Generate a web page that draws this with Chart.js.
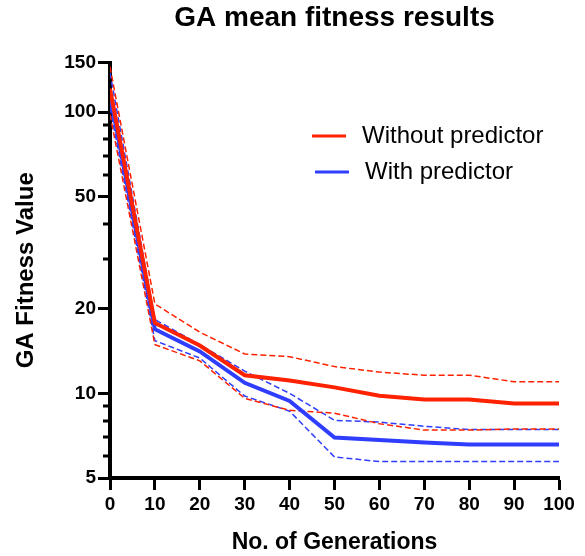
<!DOCTYPE html>
<html>
<head>
<meta charset="utf-8">
<script src="https://cdn.jsdelivr.net/npm/chart.js@4/dist/chart.umd.min.js"></script>
<style>
  html, body { margin:0; padding:0; background:#fff; }
  #wrap { width:585px; height:556px; position:relative; }
</style>
</head>
<body>
<div id="wrap"><canvas id="gaChart"></canvas></div>
<script>
// ─── Data ────────────────────────────────────────────────────────────────────
const generations = [0, 10, 20, 30, 40, 50, 60, 70, 80, 90, 100];

const withoutMean  = [121, 17.8, 14.8, 11.6, 11.1, 10.5, 9.8, 9.5, 9.5, 9.2, 9.2];
const withoutUpper = [145, 20.8, 16.5, 13.8, 13.5, 12.45, 11.9, 11.6, 11.6, 11.0, 11.0];
const withoutLower = [98, 14.9, 13.05, 9.6, 8.7, 8.5, 7.8, 7.4, 7.4, 7.47, 7.47];

const withMean  = [115, 16.9, 14.1, 10.9, 9.4, 6.97, 6.82, 6.68, 6.58, 6.58, 6.58];
const withUpper = [138, 18.3, 14.9, 12.0, 10.0, 8.02, 7.9, 7.64, 7.43, 7.43, 7.43];
const withLower = [104, 15.4, 13.35, 9.78, 8.64, 5.94, 5.72, 5.72, 5.72, 5.72, 5.72];

const yMajorTicks = [5, 10, 20, 50, 100, 150];
const yMinorTicks = [6, 7, 8, 9, 30, 40, 60, 70, 80, 90];
const xTicks = [0, 10, 20, 30, 40, 50, 60, 70, 80, 90, 100];

const RED  = '#ff2200';
const BLUE = '#2f3dff';
const FONT = '"Liberation Sans", Arial, Helvetica, sans-serif';

const pts = arr => arr.map((v, i) => ({ x: generations[i], y: v }));

// solid mean lines + dashed band lines
function meanSet(label, data, color) {
  return { label, data: pts(data), borderColor: color, backgroundColor: color,
           borderWidth: 4, pointRadius: 0, tension: 0, inLegend: true };
}
function bandSet(data, color) {
  return { data: pts(data), borderColor: color, borderWidth: 1.5,
           borderDash: [6, 3], pointRadius: 0, tension: 0, inLegend: false };
}

// legend drawn inside the plot area
const insideLegend = {
  id: 'insideLegend',
  afterDraw(chart, args, opts) {
    const ctx = chart.ctx;
    const items = chart.data.datasets.filter(d => d.inLegend);
    ctx.save();
    ctx.font = opts.font;
    ctx.fillStyle = '#000';
    ctx.textBaseline = 'middle';
    items.forEach((d, i) => {
      const y = opts.y + i * opts.rowGap;
      const x = opts.x + i * opts.shift;
      ctx.strokeStyle = d.borderColor;
      ctx.lineWidth = 3;
      ctx.beginPath();
      ctx.moveTo(x, y);
      ctx.lineTo(x + opts.lineLen, y);
      ctx.stroke();
      ctx.fillText(d.label, x + opts.lineLen + opts.gap, y);
    });
    ctx.restore();
  }
};

// short minor ticks on the log axis
const minorTicks = {
  id: 'minorTicks',
  afterDraw(chart, args, opts) {
    const s = chart.scales.y;
    const ctx = chart.ctx;
    ctx.save();
    ctx.strokeStyle = '#000';
    ctx.lineWidth = 3;
    yMinorTicks.forEach(v => {
      const y = Math.round(s.getPixelForValue(v));
      ctx.beginPath();
      ctx.moveTo(s.right - opts.len, y);
      ctx.lineTo(s.right, y);
      ctx.stroke();
    });
    ctx.restore();
  }
};

new Chart(document.getElementById('gaChart'), {
  type: 'line',
  data: {
    datasets: [
      meanSet('Without predictor', withoutMean, RED),
      meanSet('With predictor', withMean, BLUE),
      bandSet(withoutUpper, RED),
      bandSet(withoutLower, RED),
      bandSet(withUpper, BLUE),
      bandSet(withLower, BLUE),
    ]
  },
  options: {
    responsive: true,
    maintainAspectRatio: false,
    animation: false,
    layout: { padding: { left: 0, right: 26, top: 0, bottom: 0 } },
    plugins: {
      legend: { display: false },
      tooltip: { enabled: false },
      title: {
        display: true,
        fullSize: false,
        text: 'GA mean fitness results',
        color: '#000',
        font: { family: FONT, size: 28, weight: 'bold' },
        padding: { top: 1, bottom: 28 }
      },
      insideLegend: { x: 312, y: 136, rowGap: 36, shift: 3, lineLen: 34, gap: 16,
                      font: '24px ' + FONT },
      minorTicks: { len: 7 }
    },
    scales: {
      x: {
        type: 'linear',
        min: 0, max: 100,
        afterBuildTicks: s => { s.ticks = xTicks.map(v => ({ value: v })); },
        afterFit: s => { s.height = 78; },
        border: { color: '#000', width: 4 },
        grid: { drawOnChartArea: false, drawTicks: true, tickLength: 12,
                tickWidth: 3, tickColor: '#000' },
        ticks: { color: '#000', padding: 3, maxRotation: 0, autoSkip: false,
                 font: { family: FONT, size: 19, weight: 'bold' } },
        title: { display: true, text: 'No. of Generations', color: '#000',
                 padding: { top: 0, bottom: 0 },
                 font: { family: FONT, size: 23, weight: 'bold' } }
      },
      y: {
        type: 'logarithmic',
        min: 5, max: 150,
        afterBuildTicks: s => { s.ticks = yMajorTicks.map(v => ({ value: v })); },
        afterFit: s => { s.width = 110; },
        border: { color: '#000', width: 4 },
        grid: { drawOnChartArea: false, drawTicks: true, tickLength: 12,
                tickWidth: 3, tickColor: '#000' },
        ticks: { color: '#000', padding: 2, autoSkip: false,
                 callback: v => String(v),
                 font: { family: FONT, size: 19, weight: 'bold' } },
        title: { display: true, text: 'GA Fitness Value', color: '#000',
                 padding: { top: 12, bottom: 0 },
                 font: { family: FONT, size: 24, weight: 'bold' } }
      }
    }
  },
  plugins: [insideLegend, minorTicks]
});
</script>
</body>
</html>
